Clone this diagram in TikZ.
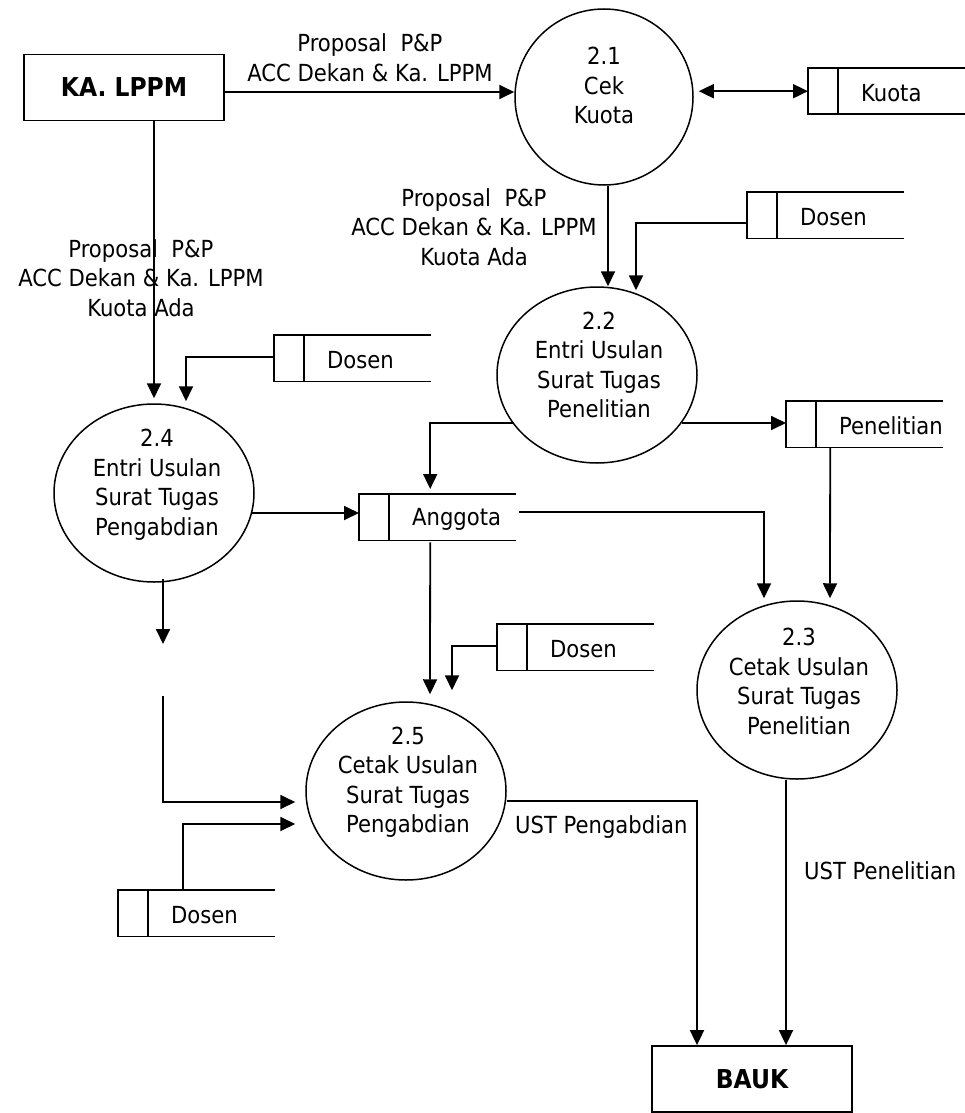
\documentclass[tikz,border=0pt]{standalone}
\usepackage{fontspec}
\setmainfont{DejaVu Sans Condensed}
\usetikzlibrary{arrows.meta,shapes.geometric}
\tikzset{
  txt/.style={font=\fontsize{23.5pt}{29.5pt}\selectfont, inner sep=0pt, align=center},
  proc/.style={ellipse, draw, line width=1.5pt, inner sep=0pt},
  ent/.style={rectangle, draw, line width=1.8pt, inner sep=0pt, minimum width=200pt, minimum height=66pt, font=\fontsize{26pt}{30pt}\selectfont\bfseries},
  flow/.style={line width=1.8pt, -{Triangle[length=15pt,width=14pt]}},
  dflow/.style={line width=1.8pt, {Triangle[length=15pt,width=14pt]}-{Triangle[length=15pt,width=14pt]}},
  storeline/.style={line width=1.8pt},
  storebox/.style={inner sep=0pt, minimum width=157pt, minimum height=46pt, anchor=north west},
}
\newcommand{\dstore}[4]{%
  \node[storebox] (#1) at (#2,#3) {};
  \draw[storeline] (#1.north east) -- (#1.north west) -- (#1.south west) -- (#1.south east);
  \draw[storeline] ([xshift=30pt]#1.north west) -- ([xshift=30pt]#1.south west);
  \node[txt, anchor=west] (#1-t) at ([xshift=53pt,yshift=-2pt]#1.west) {#4};
}
\begin{document}
\begin{tikzpicture}[x=1pt,y=-1pt]
\useasboundingbox (0,0) rectangle (965,1113);
% external entities
\node[ent] (ka) at (124,87.5) {KA. LPPM};
\node[ent] (bauk) at (752,1079) {BAUK};
% processes
\node[proc, minimum width=178pt, minimum height=176pt] (p21) at (604,97) {};
\node[txt] (p21t) at (604,85.5) {2.1\\Cek\\Kuota};
\node[proc, minimum width=200pt, minimum height=176pt] (p22) at (597,375) {};
\node[txt] (p22t) at (599,365) {2.2\\Entri Usulan\\Surat Tugas\\Penelitian};
\node[proc, minimum width=200pt, minimum height=178pt] (p23) at (797,690) {};
\node[txt] (p23t) at (799,681.5) {2.3\\Cetak Usulan\\Surat Tugas\\Penelitian};
\node[proc, minimum width=200pt, minimum height=178pt] (p24) at (154,493) {};
\node[txt] (p24t) at (157,484.5) {2.4\\Entri Usulan\\Surat Tugas\\Pengabdian};
\node[proc, minimum width=200pt, minimum height=178pt] (p25) at (406,791) {};
\node[txt] (p25t) at (408,782) {2.5\\Cetak Usulan\\Surat Tugas\\Pengabdian};
% data stores
\dstore{kuota}{808}{68}{Kuota}
\dstore{dosA}{747}{192}{Dosen}
\dstore{dosB}{274}{335}{Dosen}
\dstore{penel}{786}{401}{Penelitian}
\dstore{angg}{359}{494}{Anggota}
\dstore{dosC}{497}{624}{Dosen}
\dstore{dosD}{118}{890}{Dosen}
% labels
\node[txt] (l1) at (370,57.5) {Proposal~~P\&P\\ACC Dekan \& Ka. LPPM};
\node[txt] (l2) at (141,278) {Proposal~~P\&P\\ACC Dekan \& Ka. LPPM\\Kuota Ada};
\node[txt] (l3) at (474,227) {Proposal~~P\&P\\ACC Dekan \& Ka. LPPM\\Kuota Ada};
\node[txt, anchor=west] (l4) at (515,827) {UST Pengabdian};
\node[txt, anchor=west] (l5) at (804,871) {UST Penelitian};
% flows
\draw[flow] ([yshift=-4.5pt]ka.east) -- ([yshift=-4.5pt]ka.east -| p21.west);
\draw[dflow] ([xshift=5pt]p21.east |- kuota.west) -- (kuota.west);
\draw[flow] ([xshift=4pt]p21.south) -- ([xshift=11pt]p22.north);
\draw[flow] ([yshift=-8pt]dosA.west) -| ([xshift=39pt,yshift=-4pt]p22.north);
\draw[flow] ([xshift=30pt]ka.south) -- ([yshift=5pt]p24.north);
\draw[flow] ([yshift=1pt]dosB.west) -| ([xshift=32pt,yshift=2pt]p24.north);
\draw[flow] ([xshift=-3pt,yshift=-20pt]p24.east) -- ([yshift=-20pt]p24.east -| angg.west);
\draw[flow] ([xshift=-84pt,yshift=-48pt]p22.center) -| ([xshift=-7.5pt,yshift=5pt]angg.north);
\draw[flow] ([xshift=85pt,yshift=-48pt]p22.center) -- ([yshift=-48pt]p22.center -| penel.west);
\draw[flow] ([xshift=-34.5pt]penel.south) -- ([xshift=33pt,yshift=2pt]p23.north);
\draw[flow] ([xshift=3pt,yshift=5.5pt]angg.east) -| ([xshift=-33pt,yshift=2pt]p23.north);
\draw[flow] ([xshift=-7.5pt,yshift=-2pt]angg.south) -- ([xshift=24pt,yshift=7pt]p25.north);
\draw[flow] ([yshift=1pt]dosC.west) -| ([xshift=46pt,yshift=11pt]p25.north);
\coordinate (g1) at (163,644);
\coordinate (g2) at (163,696);
\draw[flow] ([xshift=9pt,yshift=4pt]p24.south) -- (g1);
\draw[flow] (g2) |- ([xshift=-10pt,yshift=-11pt]p25.west);
\draw[flow] ([xshift=-13.5pt]dosD.north) |- ([xshift=-10pt,yshift=-33pt]p25.west);
\draw[flow] ([yshift=-10pt]p25.east) -| ([xshift=-55pt]bauk.north);
\draw[flow] ([xshift=-11pt]p23.south) -- ([xshift=34pt]bauk.north);
\end{tikzpicture}
\end{document}
